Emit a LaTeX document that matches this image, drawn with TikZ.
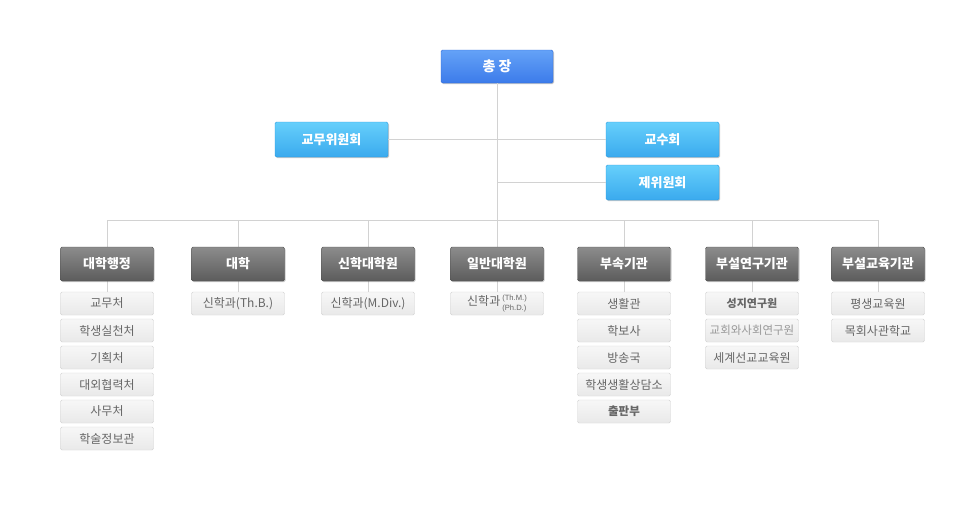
\documentclass[tikz,border=0pt]{standalone}
\usepackage{fontspec}
\setmainfont{Noto Sans CJK KR}
\newfontfamily\latsmall{Liberation Sans}
\usetikzlibrary{shadows}
\definecolor{linec}{HTML}{D2D2D2}
\definecolor{btop}{HTML}{64A2F7}
\definecolor{bbot}{HTML}{3C7BEA}
\definecolor{bbord}{HTML}{2E6AD8}
\definecolor{ltop}{HTML}{66CFFB}
\definecolor{lbot}{HTML}{3AAAEE}
\definecolor{lbord}{HTML}{2B9BE0}
\definecolor{dtop}{HTML}{8C8C8C}
\definecolor{dbot}{HTML}{5C5C5C}
\definecolor{dbord}{HTML}{505050}
\definecolor{stop}{HTML}{F7F7F7}
\definecolor{sbot}{HTML}{E9E9E9}
\definecolor{sbord}{HTML}{D3D3D3}
\definecolor{stext}{HTML}{666666}
\begin{document}
\begin{tikzpicture}[x=1pt,y=-1pt,
  link/.style={draw=linec, line width=1pt},
  shad/.style={drop shadow={shadow xshift=1pt, shadow yshift=-1.2pt, opacity=0.35, fill=black!60}},
  topbox/.style={draw=bbord, rounded corners=1.5pt, top color=btop, bottom color=bbot,
    minimum width=112pt, minimum height=33pt, text=white, shad,
    font=\bfseries\fontsize{14}{14}\selectfont, inner sep=0pt},
  combox/.style={draw=lbord, rounded corners=1.5pt, top color=ltop, bottom color=lbot,
    minimum width=113pt, minimum height=35pt, text=white, shad,
    font=\bfseries\fontsize{13}{13}\selectfont, inner sep=0pt},
  headbox/.style={draw=dbord, rounded corners=1.5pt, top color=dtop, bottom color=dbot,
    minimum width=93pt, minimum height=34pt, text=white, shad,
    font=\bfseries\fontsize{13}{13}\selectfont, inner sep=0pt},
  subbox/.style={draw=sbord, rounded corners=1.5pt, top color=stop, bottom color=sbot,
    minimum width=93pt, minimum height=23pt, text=stext,
    font=\fontsize{12}{12}\selectfont, inner sep=0pt}
]
\useasboundingbox (0,0) rectangle (980,507);
\fill[white] (0,0) rectangle (980,507);

% trunk and bus
\coordinate (busc) at (497,220);
\coordinate (busl) at (107,220);
\coordinate (busr) at (878,220);

\node[topbox] (top) at (497,66.5) {총 장};
\node[combox] (gm) at (331.5,139.5) {교무위원회};
\node[combox] (gs) at (662.5,139.5) {교수회};
\node[combox] (jw) at (662.5,182.5) {제위원회};
\coordinate (j2) at (497,182.5);

\foreach \n/\x in {h1/107, h2/238, h3/368, h4/497, h5/624, h6/752, h7/878}{
  \coordinate (\n b) at (\x,220);
  \coordinate (\n t) at (\x,247);
  \coordinate (\n u) at (\x,281);
  \coordinate (\n s) at (\x,292);
}

% connectors
\draw[link] (top.south) -- (busc);
\draw[link] (gm.east) -- (gs.west);
\draw[link] (j2) -- (jw.west);
\draw[link] (busl) -- (busr);
\foreach \n in {h1,h2,h3,h4,h5,h6,h7}{
  \draw[link] (\n b) -- (\n t);
  \draw[link] (\n u) -- (\n s);
}

\foreach \n/\x/\t in {h1/107/대학행정, h2/238/대학, h3/368/신학대학원, h4/497/일반대학원, h5/624/부속기관, h6/752/부설연구기관, h7/878/부설교육기관}{
  \node[headbox] (\n) at (\x,264) {\t};
}

% sub boxes
\foreach \t [count=\i from 0] in {교무처, 학생실천처, 기획처, 대외협력처, 사무처, 학술정보관}{
  \node[subbox] (a\i) at (107,303.5+27*\i) {\t};
}
\node[subbox] (b0) at (238,303.5) {신학과(Th.B.)};
\node[subbox] (c0) at (368,303.5) {신학과(M.Div.)};
\node[subbox] (d0) at (497,303.5) {신학과\,{\latsmall\fontsize{7.6}{10}\selectfont\begin{tabular}[c]{@{}l@{}}(Th.M.)\\(Ph.D.)\end{tabular}}};
\foreach \t [count=\i from 0] in {생활관, 학보사, 방송국, 학생생활상담소}{
  \node[subbox] (e\i) at (624,303.5+27*\i) {\t};
}
\node[subbox, font=\bfseries\fontsize{11.5}{11.5}\selectfont] (e4) at (624,411.5) {출판부};
\node[subbox, font=\bfseries\fontsize{11}{11}\selectfont] (f0) at (752,303.5) {성지연구원};
\node[subbox, text=black!40, font=\fontsize{11.5}{11.5}\selectfont] (f1) at (752,330.5) {교회와사회연구원};
\node[subbox] (f2) at (752,357.5) {세계선교교육원};
\node[subbox] (g0) at (878,303.5) {평생교육원};
\node[subbox] (g1) at (878,330.5) {목회사관학교};
\end{tikzpicture}
\end{document}
